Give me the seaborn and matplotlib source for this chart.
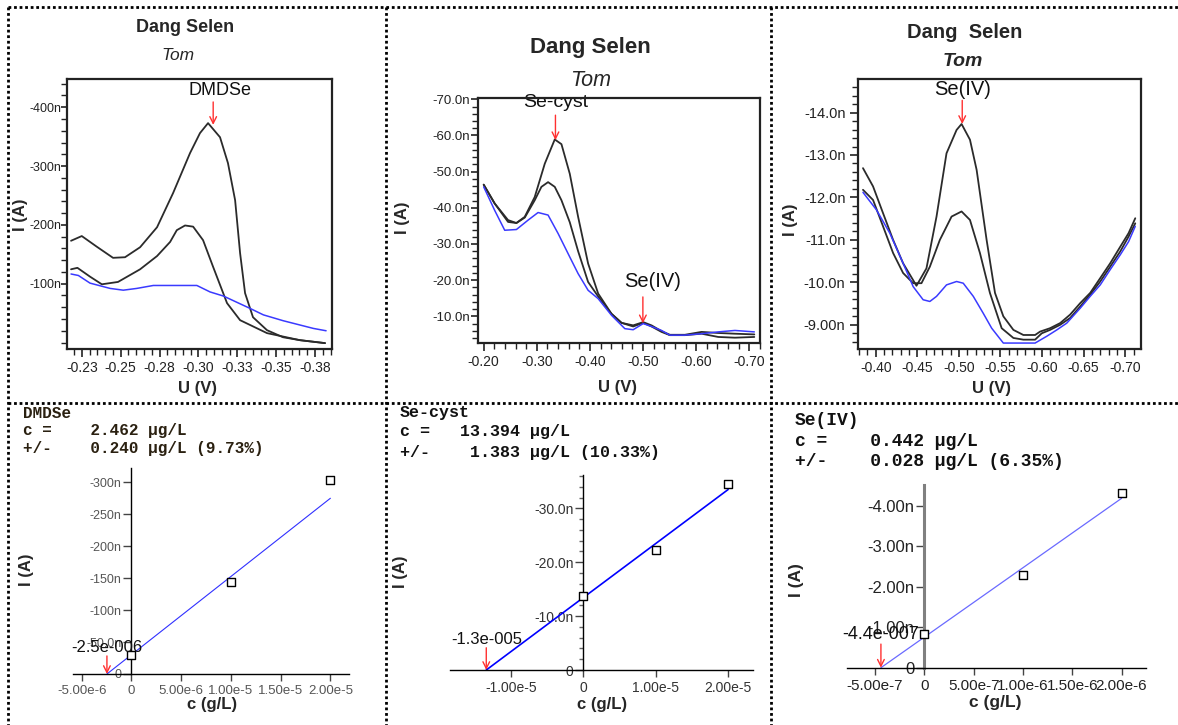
"""Standard-addition voltammograms for selenium species (Dang Selen / Tom)."""

import matplotlib

matplotlib.use("Agg")
import matplotlib.pyplot as plt
import seaborn as sns
from matplotlib.lines import Line2D
from matplotlib.ticker import MultipleLocator

# ---- top row: voltammograms (U in V, I in nA) ----
p1_u_top = [-0.2181, -0.2250, -0.2346, -0.2451, -0.2528, -0.2625, -0.2734, -0.2837, -0.2946, -0.3010,
            -0.3062, -0.3139, -0.3190, -0.3236, -0.3268, -0.3300, -0.3351, -0.3441, -0.3544, -0.3653, -0.3814]
p1_i_top = [-173, -181, -163, -144, -145, -162, -196, -254, -322, -356,
            -373, -349, -305, -242, -152, -84, -43, -21, -9, -4, 1]
p1_u_mid = [-0.2181, -0.2222, -0.2303, -0.2379, -0.2483, -0.2625, -0.2734, -0.2818, -0.2861, -0.2914,
            -0.2966, -0.3030, -0.3094, -0.3184, -0.3268, -0.3441, -0.3653, -0.3814]
p1_i_mid = [-124.5, -127, -112, -99, -103, -124.5, -147, -171, -191, -199,
            -197, -174, -129, -67, -38, -16, -4, 1]
p1_u_blank = [-0.2181, -0.2228, -0.2303, -0.2432, -0.2517, -0.2604, -0.2710, -0.2990, -0.3075, -0.3161,
              -0.3332, -0.3418, -0.3546, -0.3739, -0.3821]
p1_i_blank = [-116.5, -114, -101, -92, -89, -92, -97, -97, -86, -79, -58, -47, -37, -24, -20]
p1_peak = (-0.3095, -370)

p2_u_top = [-0.2000, -0.2207, -0.2459, -0.2616, -0.2773, -0.2961, -0.3150, -0.3338, -0.3464, -0.3621,
            -0.3778, -0.3966, -0.4155, -0.4406, -0.4595, -0.4814, -0.5003, -0.5160, -0.5348, -0.5505,
            -0.5788, -0.6102, -0.6416, -0.6730, -0.7095]
p2_i_top = [-46.4, -41.2, -36.6, -35.8, -37.5, -43.0, -52.2, -58.9, -57.6, -49.4,
            -37.5, -24.6, -16.3, -10.7, -8.2, -7.5, -8.4, -7.5, -5.9, -4.9,
            -4.9, -5.7, -5.4, -5.2, -5.0]
p2_u_mid = [-0.2000, -0.2207, -0.2459, -0.2616, -0.2773, -0.2961, -0.3087, -0.3212, -0.3338, -0.3464,
            -0.3621, -0.3778, -0.3966, -0.4155, -0.4406, -0.4595, -0.4814, -0.5003, -0.5160, -0.5348,
            -0.5505, -0.5788, -0.6102, -0.6416, -0.6730, -0.7095]
p2_i_mid = [-46.4, -41.2, -36.1, -35.8, -37.3, -42.1, -45.8, -47.1, -45.8, -42.1,
            -36.0, -28.0, -19.5, -15.5, -10.7, -8.2, -7.2, -8.2, -7.2, -5.7,
            -4.8, -4.8, -5.2, -4.3, -4.1, -4.3]
p2_u_blank = [-0.2000, -0.2207, -0.2396, -0.2616, -0.2836, -0.3024, -0.3212, -0.3401, -0.3621, -0.3778,
              -0.3966, -0.4155, -0.4406, -0.4657, -0.4814, -0.5003, -0.5160, -0.5348, -0.5505, -0.5788,
              -0.6102, -0.6416, -0.6730, -0.7095]
p2_i_blank = [-45.8, -39.3, -33.8, -34.0, -36.6, -38.7, -38.0, -32.9, -26.4, -21.8,
              -17.2, -14.9, -10.3, -6.6, -6.3, -8.0, -7.2, -6.1, -4.8, -4.8,
              -5.2, -5.7, -6.1, -5.7]
p2_peak_cyst = (-0.3351, -58.7)
p2_peak_se4 = (-0.4997, -8.07)

p3_u_top = [-0.3847, -0.3968, -0.4088, -0.4209, -0.4329, -0.4490, -0.4610, -0.4731, -0.4851, -0.4972,
            -0.5032, -0.5133, -0.5213, -0.5333, -0.5434, -0.5534, -0.5655, -0.5775, -0.5916, -0.5976,
            -0.6096, -0.6217, -0.6337, -0.6458, -0.6578, -0.6699, -0.6819, -0.6940, -0.7040, -0.7120]
p3_i_top = [-12.69, -12.26, -11.63, -11.00, -10.45, -9.92, -10.33, -11.55, -13.04, -13.59,
            -13.73, -13.36, -12.65, -11.00, -9.75, -9.20, -8.88, -8.76, -8.76, -8.84,
            -8.92, -9.04, -9.24, -9.51, -9.75, -10.10, -10.45, -10.84, -11.16, -11.51]
p3_u_mid = [-0.3847, -0.3968, -0.4088, -0.4209, -0.4329, -0.4450, -0.4550, -0.4651, -0.4771, -0.4912,
            -0.5032, -0.5133, -0.5253, -0.5373, -0.5514, -0.5655, -0.5775, -0.5916, -0.5996, -0.6096,
            -0.6217, -0.6337, -0.6458, -0.6578, -0.6699, -0.6819, -0.6940, -0.7040, -0.7120]
p3_i_mid = [-12.18, -11.94, -11.32, -10.69, -10.22, -9.98, -9.98, -10.37, -11.00, -11.55,
            -11.67, -11.47, -10.69, -9.75, -8.92, -8.69, -8.65, -8.65, -8.80, -8.88,
            -9.00, -9.16, -9.43, -9.71, -10.02, -10.37, -10.73, -11.08, -11.39]
p3_u_blank = [-0.3847, -0.4008, -0.4169, -0.4329, -0.4450, -0.4570, -0.4651, -0.4731, -0.4851, -0.4972,
              -0.5052, -0.5173, -0.5293, -0.5394, -0.5534, -0.5695, -0.5916, -0.6056, -0.6177, -0.6297,
              -0.6458, -0.6578, -0.6699, -0.6819, -0.6940, -0.7040, -0.7120]
p3_i_blank = [-12.12, -11.71, -11.16, -10.45, -9.90, -9.59, -9.55, -9.67, -9.94, -10.02,
              -9.98, -9.67, -9.27, -8.92, -8.57, -8.57, -8.57, -8.73, -8.88, -9.04,
              -9.39, -9.67, -9.94, -10.30, -10.65, -10.96, -11.32]
p3_peak = (-0.5040, -13.73)

# ---- bottom row: standard addition (c in g/L, I in nA) ----
p4_conc = [0.0, 1.0e-5, 2.0e-5]
p4_curr = [-29.0, -143.5, -304.0]
p4_fit_c = [-2.46e-6, 2.0e-5]
p4_fit_i = [0.0, -274.7]
p4_info = ["DMDSe", "c =    2.462 µg/L", "+/-    0.240 µg/L (9.73%)"]
p4_root_label = "-2.5e-006"

p5_conc = [0.0, 1.0e-5, 2.0e-5]
p5_curr = [-13.8, -22.2, -34.6]
p5_fit_c = [-1.34e-5, 2.0e-5]
p5_fit_i = [0.0, -33.5]
p5_info = ["Se-cyst", "c =   13.394 µg/L", "+/-    1.383 µg/L (10.33%)"]
p5_root_label = "-1.3e-005"

p6_conc = [0.0, 1.0e-6, 2.0e-6]
p6_curr = [-0.83, -2.29, -4.32]
p6_fit_c = [-4.4e-7, 2.0e-6]
p6_fit_i = [0.0, -4.19]
p6_info = ["Se(IV)", "c =    0.442 µg/L", "+/-    0.028 µg/L (6.35%)"]
p6_root_label = "-4.4e-007"

W, H = 1178, 725
BLACKISH = "#2b2b2b"
BLUE = "#3a3aff"
RED = "#ff3030"

sns.set_theme(style="ticks")
plt.rcParams["font.family"] = ["Liberation Sans", "DejaVu Sans"]
plt.rcParams["axes.linewidth"] = 1.5

fig = plt.figure(figsize=(W / 100, H / 100), dpi=100)
fig.patch.set_facecolor("white")


def rect(x0, y0, x1, y1):
    return [x0 / W, 1 - y1 / H, (x1 - x0) / W, (y1 - y0) / H]


def ftext(x, y, s, **kw):
    fig.text(x / W, 1 - y / H, s, ha="center", va="center", **kw)


def draw_scan(ax, curves, xlim, ylim, xticks, xlabels, xminor, yticks, ylabels, yminor, fs_x, fs_y,
              ypad=3, ylen=6):
    for u, i, col, lw in curves:
        sns.lineplot(x=u, y=i, color=col, linewidth=lw, sort=False, estimator=None, ax=ax, legend=False)
    ax.set_xlim(*xlim)
    ax.set_ylim(*ylim)
    ax.set_xticks(xticks)
    ax.set_xticklabels(xlabels, fontsize=fs_x, color="#222222")
    ax.set_yticks(yticks)
    ax.set_yticklabels(ylabels, fontsize=fs_y, color="#222222")
    ax.xaxis.set_minor_locator(MultipleLocator(xminor))
    ax.yaxis.set_minor_locator(MultipleLocator(yminor))
    ax.tick_params(which="major", length=6, width=1.2, color="#222222", pad=3)
    ax.tick_params(axis="y", which="major", length=ylen, pad=ypad)
    ax.tick_params(which="minor", length=4, width=1.0, color="#222222")
    ax.set_xlabel("")
    ax.set_ylabel("")
    for sp in ax.spines.values():
        sp.set_visible(True)
        sp.set_color("#222222")
        sp.set_linewidth(1.6)


def mark_peak(ax, peak, label, tail_pt, text_dx, text_dy, fs):
    ax.annotate("", xy=peak, xytext=(0, tail_pt), textcoords="offset points",
                arrowprops=dict(arrowstyle="->", color=RED, lw=1.0, shrinkA=0, shrinkB=0))
    ax.annotate(label, xy=peak, xytext=(text_dx, text_dy), textcoords="offset points",
                ha="center", va="center", fontsize=fs, color="#111111", zorder=1)


def draw_addition(ax, conc, curr, fit_c, fit_i, line_col, line_w, xlim, ylim, xticks, xlabels,
                  yticks, ylabels, fs_x, fs_y, tick_col, yspine_col, yspine_w):
    sns.lineplot(x=fit_c, y=fit_i, color=line_col, linewidth=line_w, sort=False, estimator=None,
                 ax=ax, legend=False)
    sns.scatterplot(x=conc, y=curr, marker="s", s=40, color="white", edgecolor="black",
                    linewidth=1.0, ax=ax, zorder=4, legend=False)
    ax.set_xlim(*xlim)
    ax.set_ylim(*ylim)
    ax.spines["left"].set_position(("data", 0))
    ax.spines["left"].set_color(yspine_col)
    ax.spines["left"].set_linewidth(yspine_w)
    ax.spines["bottom"].set_color("black")
    ax.spines["bottom"].set_linewidth(1.0)
    ax.spines["top"].set_visible(False)
    ax.spines["right"].set_visible(False)
    ax.set_xticks(xticks)
    ax.set_xticklabels(xlabels, fontsize=fs_x, color=tick_col)
    ax.set_yticks(yticks)
    ax.set_yticklabels(ylabels, fontsize=fs_y, color=tick_col)
    ax.tick_params(axis="x", length=5, width=1.0, color="#444444", pad=3)
    ax.tick_params(axis="y", length=6, width=1.0, color="#444444", pad=1)
    ax.set_xlabel("")
    ax.set_ylabel("")
    ax.patch.set_alpha(0)


def mark_root(ax, root, label, tail_pt, text_dy, fs):
    ax.annotate("", xy=(root, 0), xytext=(0, tail_pt), textcoords="offset points",
                arrowprops=dict(arrowstyle="->", color=RED, lw=1.0, shrinkA=0, shrinkB=0))
    ax.annotate(label, xy=(root, 0), xytext=(0, text_dy), textcoords="offset points",
                ha="center", va="center", fontsize=fs, color="#111111", zorder=5)


# ---------- panel 1 ----------
ax1 = fig.add_axes(rect(67, 79, 332, 349))
draw_scan(ax1,
          [(p1_u_top, p1_i_top, BLACKISH, 1.3), (p1_u_mid, p1_i_mid, BLACKISH, 1.3),
           (p1_u_blank, p1_i_blank, BLUE, 1.1)],
          (-0.2155, -0.3859), (11, -448),
          [-0.225, -0.25, -0.275, -0.30, -0.325, -0.35, -0.375],
          ["-0.23", "-0.25", "-0.28", "-0.30", "-0.33", "-0.35", "-0.38"], 0.005,
          [-400, -300, -200, -100], ["-400n", "-300n", "-200n", "-100n"], 20, 10, 9,
          ypad=0, ylen=4)
mark_peak(ax1, p1_peak, "DMDSe", 16.5, 5, 25, 13)
ftext(185, 28, "Dang Selen", fontsize=13, fontweight="bold")
ftext(178, 56, "Tom", fontsize=12.5, fontstyle="italic")
ftext(20, 215, "I (A)", fontsize=12, fontweight="bold", rotation=90)
ftext(198, 388, "U (V)", fontsize=12, fontweight="bold")

# ---------- panel 2 ----------
ax2 = fig.add_axes(rect(478, 98, 760, 343))
draw_scan(ax2,
          [(p2_u_top, p2_i_top, BLACKISH, 1.3), (p2_u_mid, p2_i_mid, BLACKISH, 1.3),
           (p2_u_blank, p2_i_blank, BLUE, 1.1)],
          (-0.1893, -0.7202), (-2.63, -70.36),
          [-0.2, -0.3, -0.4, -0.5, -0.6, -0.7],
          ["-0.20", "-0.30", "-0.40", "-0.50", "-0.60", "-0.70"], 0.02,
          [-70, -60, -50, -40, -30, -20, -10],
          ["-70.0n", "-60.0n", "-50.0n", "-40.0n", "-30.0n", "-20.0n", "-10.0n"], 2, 10, 9.5,
          ypad=1, ylen=5)
mark_peak(ax2, p2_peak_cyst, "Se-cyst", 18, 0, 27, 14)
mark_peak(ax2, p2_peak_se4, "Se(IV)", 19, 7, 30, 14.5)
ftext(590, 47, "Dang Selen", fontsize=16, fontweight="bold")
ftext(591, 80, "Tom", fontsize=15.5, fontstyle="italic")
ftext(402, 218, "I (A)", fontsize=12, fontweight="bold", rotation=90)
ftext(617, 387, "U (V)", fontsize=12, fontweight="bold")

# ---------- panel 3 ----------
ax3 = fig.add_axes(rect(858, 79, 1141, 349))
draw_scan(ax3,
          [(p3_u_top, p3_i_top, BLACKISH, 1.3), (p3_u_mid, p3_i_mid, BLACKISH, 1.3),
           (p3_u_blank, p3_i_blank, BLUE, 1.1)],
          (-0.3787, -0.7189), (-8.43, -14.79),
          [-0.40, -0.45, -0.50, -0.55, -0.60, -0.65, -0.70],
          ["-0.40", "-0.45", "-0.50", "-0.55", "-0.60", "-0.65", "-0.70"], 0.01,
          [-14, -13, -12, -11, -10, -9],
          ["-14.0n", "-13.0n", "-12.0n", "-11.0n", "-10.0n", "-9.00n"], 0.2, 10, 10.5)
mark_peak(ax3, p3_peak, "Se(IV)", 17, 0, 25, 14.5)
ftext(965, 33, "Dang  Selen", fontsize=14.5, fontweight="bold")
ftext(963, 62, "Tom", fontsize=14, fontweight="bold", fontstyle="italic")
ftext(790, 220, "I (A)", fontsize=12, fontweight="bold", rotation=90)
ftext(992, 388, "U (V)", fontsize=12, fontweight="bold")

# ---------- panel 4 ----------
ax4 = fig.add_axes(rect(72.7, 468, 349.3, 674))
draw_addition(ax4, p4_conc, p4_curr, p4_fit_c, p4_fit_i, "#3030ff", 0.8,
              (-5.9e-6, 2.19e-5), (0, -322),
              [-5e-6, 0, 5e-6, 1e-5, 1.5e-5, 2e-5],
              ["-5.00e-6", "0", "5.00e-6", "1.00e-5", "1.50e-5", "2.00e-5"],
              [-300, -250, -200, -150, -100, -50, 0],
              ["-300n", "-250n", "-200n", "-150n", "-100n", "-50.0n", "0"],
              9.5, 9, "#555555", "black", 1.0)
mark_root(ax4, p4_fit_c[0], p4_root_label, 13, 19, 12)
mono = ["Liberation Mono", "DejaVu Sans Mono"]
for k, line in enumerate(p4_info):
    fig.text(23 / W, 1 - (413 + 18 * k) / H, line, family=mono, fontsize=11.5, fontweight="bold",
             color="#2a2010", ha="left", va="center")
ftext(27, 570, "I (A)", fontsize=12, fontweight="bold", rotation=90)
ftext(212, 705, "c (g/L)", fontsize=12, fontweight="bold")

# ---------- panel 5 ----------
ax5 = fig.add_axes(rect(450, 475, 753.3, 670))
draw_addition(ax5, p5_conc, p5_curr, p5_fit_c, p5_fit_i, "#0000ff", 1.2,
              (-1.841e-5, 2.348e-5), (0, -36.2),
              [-1e-5, 0, 1e-5, 2e-5], ["-1.00e-5", "0", "1.00e-5", "2.00e-5"],
              [-30, -20, -10, 0], ["-30.0n", "-20.0n", "-10.0n", "0"],
              10, 10, "#333333", "black", 1.0)
ax5.yaxis.set_minor_locator(MultipleLocator(2))
ax5.tick_params(axis="y", which="minor", length=3, color="#666666")
mark_root(ax5, p5_fit_c[0], p5_root_label, 16, 22, 12)
for k, line in enumerate(p5_info):
    fig.text(400 / W, 1 - (412 + 20 * k) / H, line, family=mono, fontsize=12, fontweight="bold",
             color="#111111", ha="left", va="center")
ftext(400, 572, "I (A)", fontsize=12, fontweight="bold", rotation=90)
ftext(602, 705, "c (g/L)", fontsize=12, fontweight="bold")

# ---------- panel 6 ----------
ax6 = fig.add_axes(rect(846.7, 485, 1146, 667.7))
draw_addition(ax6, p6_conc, p6_curr, p6_fit_c, p6_fit_i, "#6a6aff", 0.9,
              (-7.87e-7, 2.248e-6), (0, -4.52),
              [-5e-7, 0, 5e-7, 1e-6, 1.5e-6, 2e-6],
              ["-5.00e-7", "0", "5.00e-7", "1.00e-6", "1.50e-6", "2.00e-6"],
              [-4, -3, -2, -1, 0], ["-4.00n", "-3.00n", "-2.00n", "-1.00n", "0"],
              11, 12, "#222222", "#808080", 2.2)
mark_root(ax6, p6_fit_c[0], p6_root_label, 17, 24, 13)
for k, line in enumerate(p6_info):
    fig.text(795 / W, 1 - (420 + 21 * k) / H, line, family=mono, fontsize=13, fontweight="bold",
             color="#111111", ha="left", va="center")
ftext(797, 580, "I (A)", fontsize=12.5, fontweight="bold", rotation=90)
ftext(995, 703, "c (g/L)", fontsize=12.5, fontweight="bold")

# ---------- dotted table borders ----------
for (x0, y0, x1, y1) in [(8, 7, W, 7), (8, 403, W, 403), (8, 7, 8, H),
                         (386, 7, 386, H), (771, 7, 771, H)]:
    fig.add_artist(Line2D([x0 / W, x1 / W], [1 - y0 / H, 1 - y1 / H], transform=fig.transFigure,
                          color="black", lw=2.0, ls=(0, (1, 1))))

fig.savefig("out.png", dpi=100)
plt.close(fig)
